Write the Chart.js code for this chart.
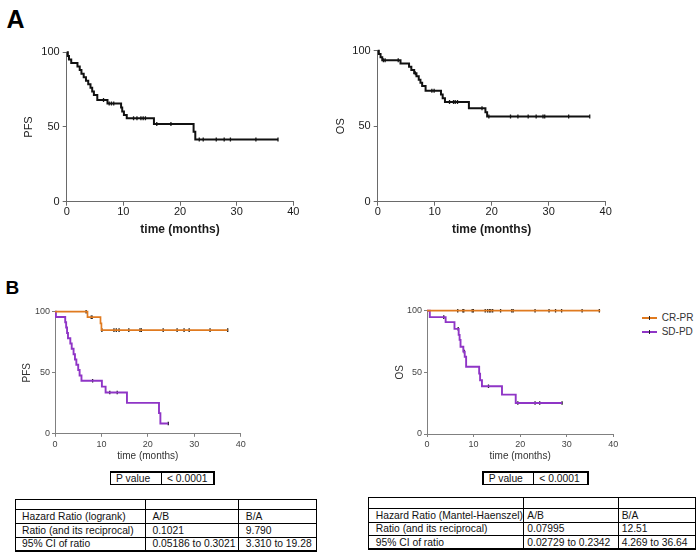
<!DOCTYPE html>
<html>
<head>
<meta charset="utf-8">
<script src="https://cdn.jsdelivr.net/npm/chart.js@4.4.1/dist/chart.umd.min.js"></script>
<style>
  body { margin: 0; background: #fff; font-family: "Liberation Sans", Arial, sans-serif; }
  #page { position: relative; width: 700px; height: 554px; overflow: hidden; background: #fff; }
  canvas { position: absolute; }
  .tag { position: absolute; font-weight: bold; color: #000; line-height: 1; }
  .cell { position: absolute; box-sizing: border-box; border: 1px solid #000; font-size: 10.3px; color: #111;
          white-space: nowrap; display: flex; align-items: center; overflow: visible; }
  .frame { position: absolute; box-sizing: border-box; border: 1.5px solid #000; }
  .leg { position: absolute; font-size: 10px; color: #333; }
  .legline { position: absolute; height: 2px; }
  .legtick { position: absolute; width: 1.5px; height: 4px; background: #222; }
</style>
</head>
<body>
<div id="page">
  <div class="tag" style="left:6.5px; top:6.7px; font-size:25px;">A</div>
  <div class="tag" style="left:5.4px; top:277.6px; font-size:19px;">B</div>
  <canvas id="pfsA"></canvas>
  <canvas id="osA"></canvas>
  <canvas id="pfsB"></canvas>
  <canvas id="osB"></canvas>
</div>
<script>
// ---- data ----
// A: all patients, step points (time in months, % surviving) and censor times
const pfsAllTime = [0, 0.2, 0.4, 0.8, 1.9, 2.3, 2.6, 3.0, 3.4, 3.8, 4.2, 4.5, 4.8, 5.4, 7.2, 9.6, 9.8, 10.1, 10.6, 15.4, 22.4, 22.7, 37.3];
const pfsAllSurv = [100, 97.6, 95.2, 92.9, 90.5, 88.1, 85.7, 83.3, 81.0, 78.6, 76.2, 73.8, 71.4, 68.1, 65.8, 63.0, 60.3, 58.0, 55.8, 52.0, 46.9, 41.7, 41.7];
const pfsAllCensor = [6.5, 7.5, 7.9, 8.3, 11.8, 12.4, 13.1, 13.5, 13.9, 15.9, 18.4, 23.4, 24.1, 26.4, 27.8, 28.9, 33.4, 37.3];

const osAllTime = [0, 0.2, 0.5, 0.8, 4.0, 5.5, 5.9, 6.4, 6.8, 7.2, 7.5, 7.8, 8.4, 11.1, 11.4, 11.8, 16.0, 18.9, 19.2, 37.2];
const osAllSurv = [100, 97.8, 95.6, 93.6, 91.5, 89.4, 87.2, 85.1, 83.0, 80.8, 78.7, 76.6, 73.4, 71.0, 68.5, 66.0, 61.9, 59.2, 56.5, 56.5];
const osAllCensor = [1.0, 1.3, 3.6, 6.6, 9.5, 9.9, 12.6, 13.3, 13.6, 14.0, 18.3, 19.5, 23.3, 24.6, 26.4, 27.8, 29.0, 29.3, 33.5, 37.2];

// B: by response group
const groupNames = ["CR-PR", "SD-PD"];

const pfsCrTime = [0, 7.0, 9.8, 10.0, 37.2];
const pfsCrSurv = [100, 95.5, 90.4, 84.9, 84.9];
const pfsCrCensor = [6.7, 7.8, 8.0, 10.1, 12.7, 13.2, 13.8, 15.9, 18.3, 18.6, 23.3, 26.3, 27.8, 28.9, 33.4, 37.2];

const pfsSdTime = [0, 0.2, 2.2, 2.4, 2.6, 2.8, 3.3, 3.6, 4.0, 4.3, 4.6, 5.0, 5.3, 5.7, 10.1, 10.9, 15.5, 22.4, 22.7, 24.4];
const pfsSdSurv = [100, 95.7, 91.3, 87.0, 82.6, 78.3, 73.9, 69.6, 65.2, 60.9, 56.5, 52.2, 47.8, 43.4, 38.6, 33.8, 25.3, 16.9, 8.4, 8.4];
const pfsSdCensor = [8.1, 11.8, 13.4, 24.4];

const osCrTime = [0, 37.2];
const osCrSurv = [100, 100];
const osCrCensor = [6.6, 7.7, 7.9, 9.7, 9.95, 12.5, 13.0, 13.4, 13.7, 14.1, 15.8, 18.2, 18.5, 23.2, 26.2, 27.6, 28.9, 33.3, 37.0];

const osSdTime = [0, 0.6, 4.0, 5.9, 6.8, 7.0, 7.2, 7.8, 8.1, 8.4, 11.2, 11.4, 11.8, 16.1, 19.05, 29.0];
const osSdSurv = [100, 94.8, 90.7, 85.3, 80.4, 76.3, 70.8, 66.8, 62.7, 54.5, 49.0, 43.6, 38.7, 31.9, 25.1, 25.1];
const osSdCensor = [3.6, 6.7, 8.0, 13.2, 19.5, 23.2, 24.2, 29.0];

const xTitle = "time (months)";

// statistics tables
const pValueRow = ["P value", "< 0.0001"];
const pfsHrRows = [
  ["", "", ""],
  ["Hazard Ratio (logrank)", "A/B", "B/A"],
  ["Ratio (and its reciprocal)", "0.1021", "9.790"],
  ["95% CI of ratio", "0.05186 to 0.3021", "3.310 to 19.28"]
];
const osHrRows = [
  ["", "", ""],
  ["Hazard Ratio (Mantel-Haenszel)", "A/B", "B/A"],
  ["Ratio (and its reciprocal)", "0.07995", "12.51"],
  ["95% CI of ratio", "0.02729 to 0.2342", "4.269 to 36.64"]
];

// ---- styles ----
const groupColors = ["#e07a1f", "#8f35c6"];
const censorColor = "#1a1a1a";
const FONT = "'Liberation Sans', Arial, sans-serif";

const styleA = {
  axis: "#6a6a6a", tick: "#1a1a1a", tl: 4, yPad: 3, xPad: 0,
  tickFont: { family: FONT, size: 11, lineHeight: 1.2 },
  xTitleFont: { family: FONT, size: 12, weight: "bold", lineHeight: 1.2 },
  yTitleFont: { family: FONT, size: 11, lineHeight: 1.2 },
  titleColor: "#1a1a1a"
};
const styleB = {
  axis: "#808080", tick: "#444", tl: 3, yPad: 2, xPad: 2,
  tickFont: { family: FONT, size: 9, lineHeight: 1.2 },
  xTitleFont: { family: FONT, size: 10, lineHeight: 1.2 },
  yTitleFont: { family: FONT, size: 10, lineHeight: 1.2 },
  titleColor: "#333"
};

// ---- helpers ----
function survAt(times, surv, t) {
  let s = surv[0];
  for (let i = 0; i < times.length; i++) if (times[i] <= t) s = surv[i];
  return s;
}

// KM curve: horizontal until the event time, then drop
function curve(times, surv, color, width) {
  return {
    type: "line",
    data: times.map((t, i) => ({ x: t, y: surv[i] })),
    stepped: "before",
    borderColor: color,
    borderWidth: width,
    pointRadius: 0,
    fill: false,
    clip: 6
  };
}

function censors(times, surv, cens, r) {
  return {
    type: "scatter",
    data: cens.map(t => ({ x: t, y: survAt(times, surv, t) })),
    pointStyle: "line",
    rotation: 90,
    pointRadius: r,
    borderColor: censorColor,
    borderWidth: 1.3,
    showLine: false,
    clip: 6
  };
}

// box = canvas rect on the page, area = wanted plot rect, yTitleX / xTitleY = title centres
function kmChart(id, box, area, st, yTitle, yTitleX, xTitleY, datasets) {
  const cv = document.getElementById(id);
  cv.width = box.w;
  cv.height = box.h;
  cv.style.left = box.x + "px";
  cv.style.top = box.y + "px";

  const yW = area.l - box.x;
  const xH = box.y + box.h - area.b;
  const yHalf = st.yTitleFont.size * st.yTitleFont.lineHeight / 2;
  const xHalf = st.xTitleFont.size * st.xTitleFont.lineHeight / 2;

  return new Chart(cv, {
    type: "line",
    data: { datasets },
    options: {
      responsive: false,
      animation: false,
      layout: { padding: { left: 0, top: area.t - box.y, right: box.x + box.w - area.r, bottom: 0 } },
      plugins: { legend: { display: false }, tooltip: { enabled: false } },
      scales: {
        x: {
          type: "linear", min: 0, max: 40,
          afterFit: s => { s.height = xH; },
          ticks: { stepSize: 10, color: st.tick, font: st.tickFont, padding: st.xPad, maxRotation: 0 },
          grid: { drawOnChartArea: false, drawTicks: true, tickLength: st.tl, color: st.axis, lineWidth: 1 },
          border: { display: true, color: st.axis, width: 1 },
          title: { display: true, text: xTitle, color: st.titleColor, font: st.xTitleFont,
                   padding: { top: 0, bottom: box.y + box.h - xTitleY - xHalf } }
        },
        y: {
          type: "linear", min: 0, max: 100,
          afterFit: s => { s.width = yW; },
          ticks: { stepSize: 50, color: st.tick, font: st.tickFont, padding: st.yPad },
          grid: { drawOnChartArea: false, drawTicks: true, tickLength: st.tl, color: st.axis, lineWidth: 1 },
          border: { display: true, color: st.axis, width: 1 },
          title: { display: true, text: yTitle, color: st.titleColor, font: st.yTitleFont,
                   padding: { top: yTitleX - box.x - yHalf, bottom: 0 } }
        }
      }
    }
  });
}

// ---- charts ----
kmChart("pfsA", { x: 0, y: 40, w: 330, h: 210 }, { l: 66.7, t: 52.3, r: 293.3, b: 201.7 },
  styleA, "PFS", 29, 230, [
    curve(pfsAllTime, pfsAllSurv, "#111", 2),
    censors(pfsAllTime, pfsAllSurv, pfsAllCensor, 2)
  ]);

kmChart("osA", { x: 330, y: 40, w: 370, h: 210 }, { l: 377.7, t: 50.7, r: 605.7, b: 201.7 },
  styleA, "OS", 341, 230, [
    curve(osAllTime, osAllSurv, "#111", 2),
    censors(osAllTime, osAllSurv, osAllCensor, 2)
  ]);

kmChart("pfsB", { x: 0, y: 290, w: 330, h: 180 }, { l: 55, t: 311.7, r: 240.7, b: 433.8 },
  styleB, "PFS", 27, 456, [
    curve(pfsCrTime, pfsCrSurv, groupColors[0], 1.7),
    curve(pfsSdTime, pfsSdSurv, groupColors[1], 1.9),
    censors(pfsCrTime, pfsCrSurv, pfsCrCensor, 1.8),
    censors(pfsSdTime, pfsSdSurv, pfsSdCensor, 1.8)
  ]);

kmChart("osB", { x: 330, y: 290, w: 300, h: 180 }, { l: 427, t: 310.7, r: 613.3, b: 434 },
  styleB, "OS", 400, 456, [
    curve(osCrTime, osCrSurv, groupColors[0], 1.7),
    curve(osSdTime, osSdSurv, groupColors[1], 1.9),
    censors(osCrTime, osCrSurv, osCrCensor, 1.8),
    censors(osSdTime, osSdSurv, osSdCensor, 1.8)
  ]);

// ---- legend for panel B ----
const page = document.getElementById("page");
groupNames.forEach((name, i) => {
  const y = 318.3 + i * 14;
  const line = document.createElement("div");
  line.className = "legline";
  line.style.cssText = `left:641.7px; top:${y - 1}px; width:15px; background:${groupColors[i]};`;
  page.appendChild(line);
  const tick = document.createElement("div");
  tick.className = "legtick";
  tick.style.cssText = `left:648.5px; top:${y - 2.5}px;`;
  page.appendChild(tick);
  const txt = document.createElement("div");
  txt.className = "leg";
  txt.textContent = name;
  txt.style.cssText = `left:661.7px; top:${y - 6}px; line-height:12px;`;
  page.appendChild(txt);
});

// ---- stats tables ----
function grid(rows, colX, rowY, padL) {
  for (let r = 0; r < rows.length; r++) {
    for (let c = 0; c < rows[r].length; c++) {
      const d = document.createElement("div");
      d.className = "cell";
      d.style.left = colX[c] + "px";
      d.style.top = rowY[r] + "px";
      d.style.width = (colX[c + 1] - colX[c] + 1) + "px";
      d.style.height = (rowY[r + 1] - rowY[r] + 1) + "px";
      d.style.paddingLeft = padL[c] + "px";
      d.textContent = rows[r][c];
      page.appendChild(d);
    }
  }
  const f = document.createElement("div");
  f.className = "frame";
  f.style.left = (colX[0] - 0.5) + "px";
  f.style.top = (rowY[0] - 0.5) + "px";
  f.style.width = (colX[colX.length - 1] - colX[0] + 2) + "px";
  f.style.height = (rowY[rowY.length - 1] - rowY[0] + 2) + "px";
  page.appendChild(f);
}

grid([pValueRow], [110, 161, 213.3], [471.7, 484], [5, 5]);
grid([pValueRow], [482.7, 533.3, 587.3], [471.7, 484], [5, 5]);
grid(pfsHrRows, [15, 145, 238.3, 315.7], [499.3, 509.3, 523, 536.7, 550.3], [6, 6.5, 6.5]);
grid(osHrRows, [368.3, 523.3, 617.7, 695], [497.3, 508.3, 521.7, 535, 548.3], [6.5, 3, 3]);
</script>
</body>
</html>
